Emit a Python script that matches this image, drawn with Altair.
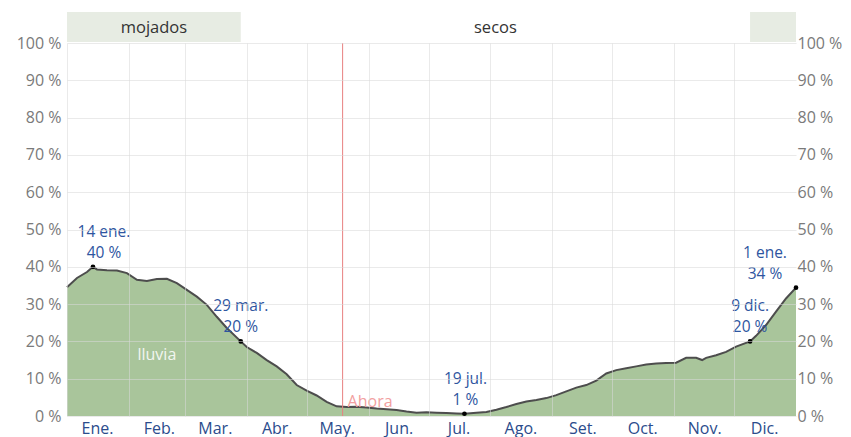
import altair as alt
import pandas as pd

# ---- data ----
days = [0, 5, 10, 13, 15, 20, 25, 30, 35, 40, 45, 50, 55, 60, 65, 70, 75, 80, 87, 90,
        95, 100, 105, 110, 115, 120, 125, 130, 135, 140, 145, 150, 155, 160, 165, 170, 175, 180, 185, 190,
        195, 199, 205, 210, 215, 220, 225, 230, 235, 240, 245, 250, 255, 260, 265, 270, 275, 280, 285, 290,
        295, 300, 305, 310, 315, 318, 320, 325, 330, 335, 342, 345, 350, 355, 360, 365]
rain = [34.5, 37.0, 38.6, 40.0, 39.3, 39.1, 39.0, 38.3, 36.5, 36.2, 36.7, 36.8, 35.6, 33.8, 32.0, 29.8, 26.6, 23.6, 20.0, 18.5,
        16.9, 15.0, 13.3, 11.2, 8.3, 6.8, 5.5, 3.8, 2.6, 2.4, 2.5, 2.3, 2.0, 1.8, 1.6, 1.2, 0.9, 1.0, 0.9, 0.8,
        0.7, 0.6, 0.9, 1.1, 1.7, 2.4, 3.2, 3.9, 4.3, 4.8, 5.6, 6.6, 7.6, 8.3, 9.5, 11.4, 12.3, 12.8, 13.3, 13.8,
        14.1, 14.2, 14.3, 15.6, 15.6, 15.0, 15.6, 16.3, 17.2, 18.6, 20.0, 21.5, 24.4, 28.0, 31.5, 34.4]

month_starts = [0, 31, 59, 90, 120, 151, 181, 212, 243, 273, 304, 334]
month_names = ["Ene.", "Feb.", "Mar.", "Abr.", "May.", "Jun.", "Jul.", "Ago.", "Set.", "Oct.", "Nov.", "Dic."]

season_names = ["mojados", "secos", "mojados"]
season_start = [0, 87, 342]
season_end = [87, 342, 365]
season_shaded = [True, False, True]

ann_days = [13, 87, 199, 342, 365]
ann_vals = [40.0, 20.0, 0.6, 20.0, 34.4]
ann_dates = ["14 ene.", "29 mar.", "19 jul.", "9 dic.", "1 ene."]
ann_pcts = ["40 %", "20 %", "1 %", "20 %", "34 %"]

now_day = 138

# ---- styling ----
FONT = "Open Sans"
ann_dx = [11, 0, 1, 0, -31]

df = pd.DataFrame({"day": days, "rain": rain})
seasons = pd.DataFrame({"name": season_names, "start": season_start, "end": season_end,
                        "shaded": season_shaded})
seasons["mid"] = (seasons["start"] + seasons["end"]) / 2
season_labels = seasons.iloc[:2]
ann = pd.DataFrame({"day": ann_days, "rain": ann_vals, "date": ann_dates, "pct": ann_pcts})

names_js = "[" + ",".join("'%s'" % m for m in month_names) + "]"
starts_js = "[" + ",".join(str(s) for s in month_starts) + "]"

x_axis = alt.Axis(values=month_starts, labelExpr=f"{names_js}[indexof({starts_js}, datum.value)]",
                  labelOffset=30, labelFlush=False, labelBound=False, labelOverlap=False,
                  domain=False, ticks=False, grid=True, gridColor="#d8d8d8", gridOpacity=0.55,
                  labelColor="#2b4c8c", labelFontSize=16, labelFont=FONT, labelPadding=4,
                  title=None, zindex=1)
x_scale = alt.Scale(domain=[0, 365], nice=False, zero=False)
y_scale = alt.Scale(domain=[0, 100], nice=False)

def y_axis(orient):
    return alt.Axis(orient=orient, values=list(range(0, 101, 10)), labelExpr="datum.value + ' %'",
                    domain=False, ticks=False, grid=(orient == "left"), gridColor="#d8d8d8",
                    gridOpacity=0.55, labelColor="#7a7a7a", labelFontSize=16, labelFont=FONT,
                    labelPadding=6 if orient == "left" else 1, title=None, zindex=1)

X = alt.X("day:Q", scale=x_scale, axis=x_axis)
Y_none = alt.Y("rain:Q", scale=y_scale, axis=None)

band = alt.Chart(seasons[seasons["shaded"]]).mark_rect(color="#e7ece3", clip=False).encode(
    x=alt.X("start:Q", scale=x_scale, axis=x_axis), x2="end:Q",
    y=alt.value(-31), y2=alt.value(-1))

band_text = alt.Chart(season_labels).mark_text(font=FONT, fontSize=16.5, color="#333333",
                                                baseline="middle").encode(
    x=alt.X("mid:Q", scale=x_scale, axis=x_axis), y=alt.value(-15), text="name:N")

area = alt.Chart(df).mark_area(color="#a9c59b").encode(
    x=X, y=alt.Y("rain:Q", scale=y_scale, axis=y_axis("left")))

line = alt.Chart(df).mark_line(color="#4d4d4d", strokeWidth=2).encode(
    x=X, y=alt.Y("rain:Q", scale=y_scale, axis=y_axis("right")))

now_df = pd.DataFrame({"day": [now_day], "label": ["Ahora"]})
now_rule = alt.Chart(now_df).mark_rule(color="#e88080", strokeWidth=1).encode(x=X)
now_text = alt.Chart(now_df).mark_text(font=FONT, fontSize=16, color="#f2a0a0", align="left",
                                        baseline="middle", dx=5).encode(
    x=X, y=alt.value(359), text="label:N")

lluvia = alt.Chart(pd.DataFrame({"day": [45], "label": ["lluvia"]})).mark_text(
    font=FONT, fontSize=16, color="#ffffff", opacity=0.85, baseline="middle").encode(
    x=X, y=alt.value(312), text="label:N")

points = alt.Chart(ann).mark_circle(color="#000000", size=22, opacity=1).encode(x=X, y=Y_none)

ann_layers = []
for i in range(len(ann)):
    sub = ann.iloc[[i]]
    ann_layers.append(alt.Chart(sub).mark_text(font=FONT, fontSize=15.5, color="#2e55a0",
                                               baseline="middle", dx=ann_dx[i], dy=-35).encode(
        x=X, y=Y_none, text="date:N"))
    ann_layers.append(alt.Chart(sub).mark_text(font=FONT, fontSize=15.5, color="#2e55a0",
                                               baseline="middle", dx=ann_dx[i], dy=-14).encode(
        x=X, y=Y_none, text="pct:N"))

chart = alt.layer(band, band_text, area, line, now_rule, now_text, lluvia, points, *ann_layers).resolve_axis(
    y="independent"
).properties(
    width=729, height=373,
    autosize=alt.AutoSizeParams(type="none"),
    padding={"left": 59, "top": 35, "right": 47, "bottom": 24},
).configure_view(stroke=None)

chart.save("out.html", embed_options={"renderer": "svg", "actions": False})
